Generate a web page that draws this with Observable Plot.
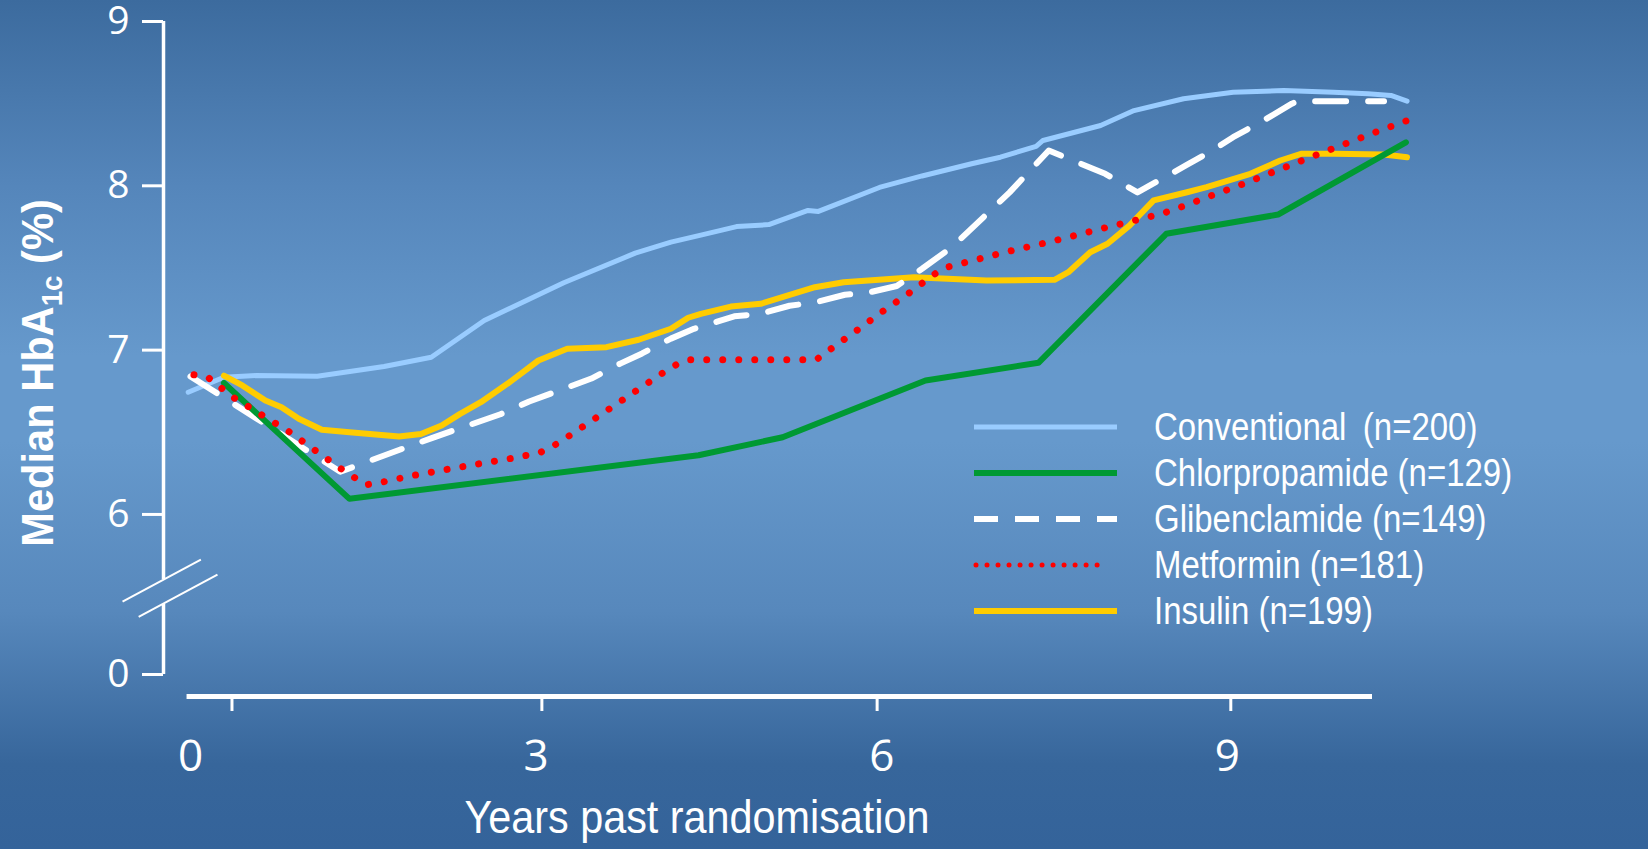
<!DOCTYPE html>
<html>
<head>
<meta charset="utf-8">
<script src="https://cdn.jsdelivr.net/npm/d3@7"></script>
<script src="https://cdn.jsdelivr.net/npm/@observablehq/plot@0.6"></script>
<style>
  html, body { margin: 0; padding: 0; width: 1648px; height: 849px; overflow: hidden; }
  body {
    position: relative;
    background: linear-gradient(to bottom, #3c6b9e 0%, #5586bb 22%, #6699cc 42%, #6699cc 52%, #5788bc 72%, #37669b 90%, #34639a 100%);
  }
  #chart { position: absolute; left: 0; top: 0; }
  #legend { position: absolute; left: 974px; top: 0; }
  .row { position: absolute; left: 0; height: 46px; display: flex; align-items: center; white-space: nowrap; }
  .row span {
    display: inline-block;
    margin-left: 37px; color: #fff; font-size: 39px;
    font-family: "Liberation Sans", Arial, sans-serif;
    transform: scaleX(0.845); transform-origin: left center;
  }
  .row svg { display: block; overflow: visible; }
</style>
</head>
<body>
<div id="chart"></div>
<div id="legend"></div>
<script>
// ---------- data (years past randomisation, median HbA1c %) ----------
const convYears  = [-0.02, 0.29, 0.57, 1.10, 1.68, 2.09, 2.55, 3.24, 3.86, 4.17, 4.43, 4.74, 5.02, 5.36, 5.45, 5.98, 6.35, 6.78, 7.03, 7.34, 7.40, 7.90, 8.19, 8.62, 9.05, 9.49, 9.92, 10.22, 10.42, 10.56];
const convValues = [6.744, 6.835, 6.845, 6.841, 6.90, 6.957, 7.18, 7.41, 7.59, 7.657, 7.70, 7.752, 7.764, 7.85, 7.844, 7.99, 8.06, 8.134, 8.174, 8.24, 8.276, 8.367, 8.458, 8.53, 8.57, 8.58, 8.57, 8.56, 8.55, 8.515];

const chlorYears  = [0.29, 1.38, 4.41, 5.14, 6.38, 7.36, 8.47, 9.44, 10.55];
const chlorValues = [6.80, 6.095, 6.36, 6.47, 6.815, 6.923, 7.708, 7.825, 8.265];

const glibYears  = [0, 1.30, 1.84, 2.10, 2.69, 2.94, 3.48, 3.73, 3.92, 4.17, 4.37, 4.72, 4.94, 5.20, 5.42, 5.68, 5.90, 6.13, 6.35, 6.61, 7.11, 7.45, 7.94, 8.22, 8.64, 8.87, 9.05, 9.32, 9.56, 9.61, 10.36];
const glibValues = [6.84, 6.26, 6.40, 6.466, 6.61, 6.687, 6.827, 6.918, 6.98, 7.07, 7.13, 7.206, 7.22, 7.27, 7.29, 7.337, 7.353, 7.39, 7.495, 7.627, 7.96, 8.215, 8.073, 7.96, 8.124, 8.215, 8.296, 8.40, 8.50, 8.515, 8.515];

const metYears  = [0.03, 0.15, 0.37, 0.85, 1.30, 1.52, 1.66, 1.93, 2.20, 2.47, 2.76, 3.03, 3.19, 3.42, 3.65, 3.88, 4.11, 4.23, 4.32, 5.43, 5.54, 5.77, 5.99, 6.22, 6.44, 6.54, 6.68, 6.81, 7.07, 7.35, 7.62, 7.89, 8.16, 8.43, 8.61, 8.88, 9.14, 9.65, 9.78, 10.04, 10.30, 10.56];
const metValues = [6.85, 6.835, 6.713, 6.506, 6.281, 6.18, 6.196, 6.237, 6.271, 6.304, 6.338, 6.375, 6.433, 6.541, 6.649, 6.758, 6.866, 6.917, 6.941, 6.941, 6.998, 7.113, 7.227, 7.338, 7.454, 7.50, 7.525, 7.549, 7.596, 7.641, 7.687, 7.736, 7.783, 7.83, 7.874, 7.945, 8.012, 8.154, 8.19, 8.26, 8.33, 8.397];

const insYears  = [0.29, 0.45, 0.65, 0.79, 0.94, 1.14, 1.38, 1.81, 2.00, 2.18, 2.34, 2.52, 2.77, 3.02, 3.27, 3.61, 3.89, 4.17, 4.32, 4.43, 4.69, 4.95, 5.42, 5.67, 6.28, 6.91, 7.50, 7.62, 7.81, 7.96, 8.15, 8.36, 8.65, 8.82, 9.20, 9.46, 9.64, 9.92, 10.36, 10.56];
const insValues = [6.845, 6.785, 6.693, 6.652, 6.582, 6.515, 6.50, 6.474, 6.49, 6.541, 6.612, 6.683, 6.805, 6.937, 7.008, 7.018, 7.063, 7.13, 7.197, 7.221, 7.265, 7.282, 7.383, 7.413, 7.444, 7.424, 7.428, 7.474, 7.596, 7.647, 7.758, 7.911, 7.961, 7.992, 8.073, 8.154, 8.195, 8.195, 8.19, 8.174];

const seriesNames = ["Conventional", "Chlorpropamide", "Glibenclamide", "Metformin", "Insulin"];
const legendLabels = ["Conventional\u2002(n=200)", "Chlorpropamide (n=129)", "Glibenclamide (n=149)", "Metformin (n=181)", "Insulin (n=199)"];

// axes
const yTickValues = [5.026, 6, 7, 8, 9];   // 5.026 is where the broken axis shows "0"
const yTickLabels = ["0", "6", "7", "8", "9"];
const xTickValues = [0, 3, 6, 9];
const xTickMarks  = [0.36, 3.05, 5.96, 9.03];
const xTitle = "Years past randomisation";

// ---------- layout constants ----------
const xDomain = [-0.2344, 10.26];
const yDomain = [4.892, 9];
const xAxisLineExtent = [-0.03, 10.26];
const yBreak = [5.452, 5.604];
const breakMarks = [
  {x1: -0.59, y1: 5.47, x2: 0.09, y2: 5.725},
  {x1: -0.45, y1: 5.377, x2: 0.234, y2: 5.634}
];

const colors = {
  Conventional: "#99ccff", Chlorpropamide: "#009933", Glibenclamide: "#ffffff",
  Metformin: "#ff0000", Insulin: "#ffcc00"
};
const textFont = "'Liberation Sans', Arial, sans-serif";
const tickFont = "'Open Sans', 'Noto Sans', sans-serif";

const rows = (name, xs, ys) => xs.map((x, i) => ({series: name, year: x, value: ys[i]}));
const conv = rows("Conventional", convYears, convValues);
const chlor = rows("Chlorpropamide", chlorYears, chlorValues);
const glib = rows("Glibenclamide", glibYears, glibValues);
const met = rows("Metformin", metYears, metValues);
const ins = rows("Insulin", insYears, insValues);

const yLabelMap = new Map(yTickValues.map((v, i) => [v, yTickLabels[i]]));
const ySegments = [[yDomain[1], yBreak[1]], [yBreak[0], yTickValues[0]]];

const chart = Plot.plot({
  width: 1648,
  height: 849,
  marginTop: 21,
  marginBottom: 153,
  marginLeft: 163,
  marginRight: 276,
  x: {domain: xDomain, axis: null},
  y: {domain: yDomain, axis: null},
  style: {background: "transparent", color: "white", overflow: "visible"},
  marks: [
    // y axis (broken)
    Plot.ruleX(ySegments, {x: () => xDomain[0], y1: d => d[0], y2: d => d[1], stroke: "white", strokeWidth: 3.5}),
    Plot.link(breakMarks, {x1: "x1", y1: "y1", x2: "x2", y2: "y2", stroke: "white", strokeWidth: 2}),
    Plot.axisY(yTickValues, {
      tickSize: 21, tickPadding: 13, tickFormat: d => yLabelMap.get(d),
      color: "white", strokeWidth: 3, fontSize: 39, fontFamily: tickFont, label: null
    }),
    // x axis
    Plot.ruleY([yDomain[0]], {x1: xAxisLineExtent[0], x2: xAxisLineExtent[1], stroke: "white", strokeWidth: 5}),
    Plot.axisX(xTickMarks, {tickSize: 15, tickFormat: () => "", color: "white", strokeWidth: 3, label: null}),
    Plot.axisX(xTickValues, {tickSize: 0, tickPadding: 43, tickFormat: d => String(d), color: "white", fontSize: 44, fontFamily: tickFont, label: null}),
    // series
    Plot.line(conv, {x: "year", y: "value", stroke: colors.Conventional, strokeWidth: 5}),
    Plot.line(ins, {x: "year", y: "value", stroke: colors.Insulin, strokeWidth: 6}),
    Plot.line(glib, {x: "year", y: "value", stroke: colors.Glibenclamide, strokeWidth: 6, strokeDasharray: "31,22"}),
    Plot.line(chlor, {x: "year", y: "value", stroke: colors.Chlorpropamide, strokeWidth: 6}),
    Plot.line(met, {x: "year", y: "value", stroke: colors.Metformin, strokeWidth: 7, strokeDasharray: "0.01,16", strokeLinecap: "round"})
  ]
});
document.getElementById("chart").appendChild(chart);

const svg = d3.select(chart);

// x-axis title (condensed)
svg.append("text")
  .attr("transform", "translate(697,833) scale(0.88,1)")
  .attr("text-anchor", "middle")
  .attr("fill", "white")
  .attr("font-family", textFont)
  .attr("font-size", 47)
  .text(xTitle);

// y-axis title with subscript (bold, condensed)
const yt = svg.append("text")
  .attr("transform", "translate(37,373) rotate(-90) scale(0.925,1)")
  .attr("text-anchor", "middle")
  .attr("dy", "0.36em")
  .attr("fill", "white")
  .attr("font-family", textFont)
  .attr("font-weight", "bold")
  .attr("font-size", 45);
yt.append("tspan").text("Median HbA");
yt.append("tspan").attr("font-size", 30).attr("dy", 9).text("1c");
yt.append("tspan").attr("dy", -9).text(" (%)");

// legend
const legendCenters = [427, 473, 519, 565, 611];
const swatchStyles = {
  Conventional: {w: 5, dash: null, cap: "butt"},
  Chlorpropamide: {w: 6, dash: null, cap: "butt"},
  Glibenclamide: {w: 6, dash: "24,17", cap: "butt"},
  Metformin: {w: 5, dash: "0.01,11", cap: "round"},
  Insulin: {w: 6, dash: null, cap: "butt"}
};
const legend = d3.select("#legend");
seriesNames.forEach((name, i) => {
  const row = legend.append("div").attr("class", "row").style("top", (legendCenters[i] - 23) + "px");
  const s = swatchStyles[name];
  const sv = row.append("svg").attr("width", 143).attr("height", 10);
  const ln = sv.append("line").attr("x1", name === "Metformin" ? 2 : 0).attr("x2", name === "Metformin" ? 134 : 143)
    .attr("y1", 5).attr("y2", 5)
    .attr("stroke", colors[name]).attr("stroke-width", s.w).attr("stroke-linecap", s.cap);
  if (s.dash) ln.attr("stroke-dasharray", s.dash);
  row.append("span").text(legendLabels[i]);
});
</script>
</body>
</html>
